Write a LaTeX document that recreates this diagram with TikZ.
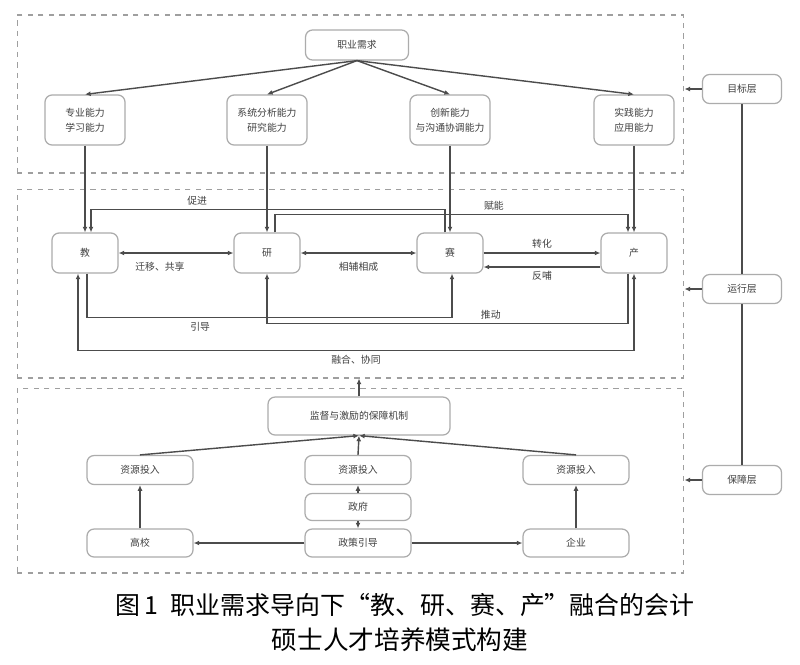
\documentclass[tikz,border=0pt]{standalone}
\usepackage{fontspec}
\setmainfont{Noto Sans CJK SC}
\usetikzlibrary{calc,positioning,arrows.meta}

\tikzset{
  box/.style={draw=gray!65,line width=0.7pt,rounded corners=4pt,align=center,inner sep=1pt,font=\fontsize{5.6}{8.4}\selectfont,text=gray!50!black},
  frame/.style={draw=gray!75,dashed,line width=0.6pt,inner sep=0pt},
  arr/.style={-{Latex[length=3.2pt,width=2.8pt]},draw=gray!60!black,line width=0.8pt},
  arrb/.style={{Latex[length=3.2pt,width=2.8pt]}-{Latex[length=3.2pt,width=2.8pt]},draw=gray!60!black,line width=0.8pt},
  tag/.style={font=\fontsize{5.6}{8}\selectfont,text=gray!50!black,inner sep=2pt}
}

\begin{document}
\begin{tikzpicture}[x=0.02cm,y=-0.02cm]
\fill[white] (0,0) rectangle (800,664);
\useasboundingbox (0,0) rectangle (800,664);

% frames
\node [frame,minimum width=13.34cm,minimum height=3.16cm] (ftop) at (350.5,94) {};
\node [frame,minimum width=13.34cm,minimum height=3.78cm] (fmid) at (350.5,283.5) {};
\node [frame,minimum width=13.34cm,minimum height=3.7cm] (fbot) at (350.5,480.5) {};

% goal layer
\node [box,minimum width=2.06cm,minimum height=0.6cm] (need) at (357,45) {职业需求};
\node [box,minimum width=1.6cm,minimum height=1cm] (abA) at (85,120) {专业能力\\学习能力};
\node [box,minimum width=1.6cm,minimum height=1cm] (abB) at (267,120) {系统分析能力\\研究能力};
\node [box,minimum width=1.6cm,minimum height=1cm] (abC) at (450,120) {创新能力\\与沟通协调能力};
\node [box,minimum width=1.6cm,minimum height=1cm] (abD) at (634,120) {实践能力\\应用能力};

\foreach \n in {abA,abB,abC,abD}
  \draw [arr] (need.south) -- (\n.north);

% run layer
\node [box,minimum width=1.32cm,minimum height=0.8cm] (jiao) at (85,253) {教};
\node [box,minimum width=1.32cm,minimum height=0.8cm] (yan) at (267,253) {研};
\node [box,minimum width=1.32cm,minimum height=0.8cm] (sai) at (450,253) {赛};
\node [box,minimum width=1.32cm,minimum height=0.8cm] (chan) at (634,253) {产};

\draw [arr] (abA.south) -- (jiao.north);
\draw [arr] (abB.south) -- (yan.north);
\draw [arr] (abC.south) -- (sai.north);
\draw [arr] (abD.south) -- (chan.north);

\draw [arr] ($(sai.north)+(-5,0)$) -- ++(0,-23) -| node[tag,pos=0.35,above] {促进} ($(jiao.north)+(6,0)$);
\draw [arr] ($(yan.north)+(8,0)$) -- ++(0,-18) -| node[tag,pos=0.31,above] {赋能} ($(chan.north)+(-6,0)$);
\draw [arrb] (jiao.east) -- node[tag,pos=0.36,below=3pt] {迁移、共享} (yan.west);
\draw [arrb] (yan.east) -- node[tag,midway,below=3pt] {相辅相成} (sai.west);
\draw [arr] (sai.east) -- node[tag,midway,above] {转化} (chan.west);
\draw [arr] ($(chan.west)+(0,14)$) -- node[tag,midway,below] {反哺} ($(sai.east)+(0,14)$);
\draw [arr] ($(jiao.south)+(2,0)$) -- ++(0,44) -| node[tag,pos=0.155,below] {引导} ($(sai.south)+(2,0)$);
\draw [arr] ($(chan.south)+(-6,0)$) -- ++(0,50) -| node[tag,pos=0.19,above] {推动} (yan.south);
\draw [arrb] ($(jiao.south)+(-7,0)$) -- ++(0,77) -| node[tag,pos=0.25,below] {融合、协同} (chan.south);

% guarantee layer
\node [box,minimum width=3.64cm,minimum height=0.76cm] (mech) at (359,416) {监督与激励的保障机制};
\node [box,minimum width=2.12cm,minimum height=0.58cm] (resA) at (140,470) {资源投入};
\node [box,minimum width=2.12cm,minimum height=0.58cm] (resB) at (358,470) {资源投入};
\node [box,minimum width=2.12cm,minimum height=0.58cm] (resC) at (576,470) {资源投入};
\node [box,minimum width=2.12cm,minimum height=0.54cm] (gov) at (358,507) {政府};
\node [box,minimum width=2.12cm,minimum height=0.56cm] (policy) at (358,543) {政策引导};
\node [box,minimum width=2.12cm,minimum height=0.56cm] (uni) at (140,543) {高校};
\node [box,minimum width=2.12cm,minimum height=0.56cm] (firm) at (576,543) {企业};

\draw [arr] (mech.north) -- (mech.north |- fmid.south);
\foreach \n in {resA,resB,resC}
  \draw [arr] (\n.north) -- (mech.south);
\draw [arr] (gov.north) -- (resB.south);
\draw [arr] (gov.south) -- (policy.north);
\draw [arr] (policy.west) -- (uni.east);
\draw [arr] (policy.east) -- (firm.west);
\draw [arr] (uni.north) -- (resA.south);
\draw [arr] (firm.north) -- (resC.south);

% layer tags
\node [box,minimum width=1.58cm,minimum height=0.58cm] (goal) at (742,89) {目标层};
\node [box,minimum width=1.58cm,minimum height=0.58cm] (run) at (742,289) {运行层};
\node [box,minimum width=1.58cm,minimum height=0.58cm] (guar) at (742,480) {保障层};
\draw [draw=gray!60!black,line width=0.8pt] (goal) -- (run);
\draw [draw=gray!60!black,line width=0.8pt] (run) -- (guar);
\draw [arr] (goal.west) -- (goal.west -| ftop.east);
\draw [arr] (run.west) -- (run.west -| fmid.east);
\draw [arr] (guar.west) -- (guar.west -| fbot.east);

% caption
\node [font=\fontsize{14.2}{17}\selectfont] (capA) at (405,605) {图\,1\enspace 职业需求导向下“教、研、赛、产”融合的会计};
\node [font=\fontsize{14.6}{17}\selectfont] (capB) at (400,640) {硕士人才培养模式构建};
\end{tikzpicture}
\end{document}
